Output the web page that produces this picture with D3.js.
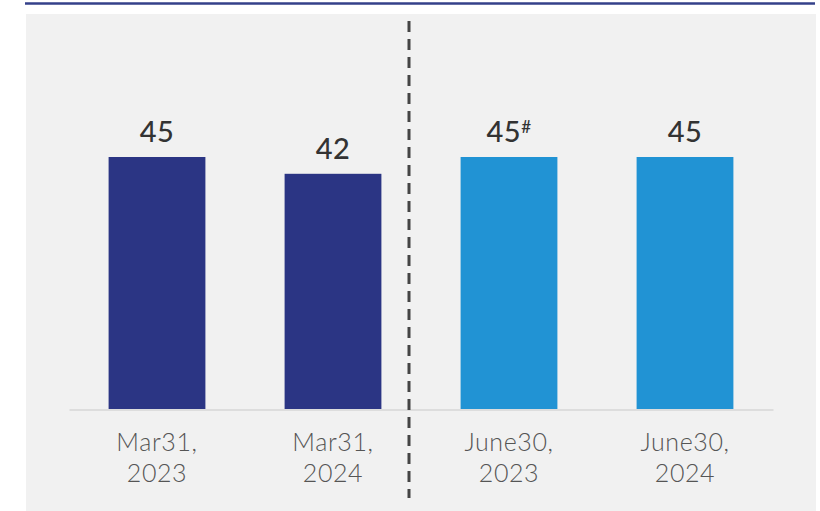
<!DOCTYPE html>
<html>
<head>
<meta charset="utf-8">
<script src="https://cdn.jsdelivr.net/npm/d3@7"></script>
<style>
  html, body { margin: 0; padding: 0; background: #ffffff; }
  svg { display: block; }
</style>
</head>
<body>
<svg id="chart" width="820" height="511"></svg>
<script>
// Data
const categoryLine1 = ["Mar31,", "Mar31,", "June30,", "June30,"];
const categoryLine2 = ["2023", "2024", "2023", "2024"];
const values = [45, 42, 45, 45];
const valueMarks = ["", "", "#", ""];
const groups = ["march", "march", "june", "june"];
const categories = categoryLine1.map((d, i) => d + " " + categoryLine2[i]);

const colorByGroup = { march: "#2b3584", june: "#2193d4" };

const svg = d3.select("#chart");
const W = 820, H = 511;

// Panel background
svg.append("rect").attr("x", 26).attr("y", 14).attr("width", 790).attr("height", H - 14).attr("fill", "#f1f1f1");

// Top rule
svg.append("line").attr("x1", 25).attr("x2", 815).attr("y1", 3.5).attr("y2", 3.5)
  .attr("stroke", "#34408a").attr("stroke-width", 2.5);

const x = d3.scaleBand().domain(categories).range([69, 773]).paddingInner(0.45).paddingOuter(0.225);
const y = d3.scaleLinear().domain([0, 50]).range([409, 129]);

// Bars
svg.append("g").selectAll("rect").data(values).join("rect")
  .attr("x", (d, i) => x(categories[i]))
  .attr("y", d => y(d))
  .attr("width", x.bandwidth())
  .attr("height", d => y(0) - y(d))
  .attr("fill", (d, i) => colorByGroup[groups[i]]);

// Baseline axis
const axis = d3.axisBottom(x).tickSize(0).tickFormat(() => "");
const ax = svg.append("g").attr("transform", `translate(0,${y(0) + 0.5})`).call(axis);
ax.select(".domain").attr("stroke", "#d6d6d6").attr("stroke-width", 1.5);

// Category labels (two lines, separate texts)
const labelFont = sel => sel
  .attr("text-anchor", "middle")
  .attr("font-family", "Lato, 'Open Sans', sans-serif")
  .attr("font-weight", 300)
  .attr("font-size", 25)
  .attr("letter-spacing", 0.6)
  .attr("fill", "#555555");
svg.append("g").selectAll("text").data(categories).join("text")
  .attr("x", d => x(d) + x.bandwidth() / 2).attr("y", 451)
  .call(labelFont).text((d, i) => categoryLine1[i]);
svg.append("g").selectAll("text").data(categories).join("text")
  .attr("x", d => x(d) + x.bandwidth() / 2).attr("y", 481.5)
  .call(labelFont).text((d, i) => categoryLine2[i]);

// Value labels
const vl = svg.append("g").selectAll("text").data(values).join("text")
  .attr("x", (d, i) => x(categories[i]) + x.bandwidth() / 2)
  .attr("y", d => y(d) - 15)
  .attr("text-anchor", "middle")
  .attr("font-family", "Lato, 'Open Sans', sans-serif")
  .attr("font-weight", 500)
  .attr("font-size", 29)
  .attr("letter-spacing", 0.5)
  .attr("fill", "#333333");
vl.append("tspan").text(d => d);
vl.append("tspan").attr("font-size", 17).attr("dy", -9).text((d, i) => valueMarks[i]);

// Divider dashed line
svg.append("line").attr("x1", 409).attr("x2", 409).attr("y1", 21).attr("y2", 498)
  .attr("stroke", "#444444").attr("stroke-width", 3).attr("stroke-dasharray", "11,7");
</script>
</body>
</html>
